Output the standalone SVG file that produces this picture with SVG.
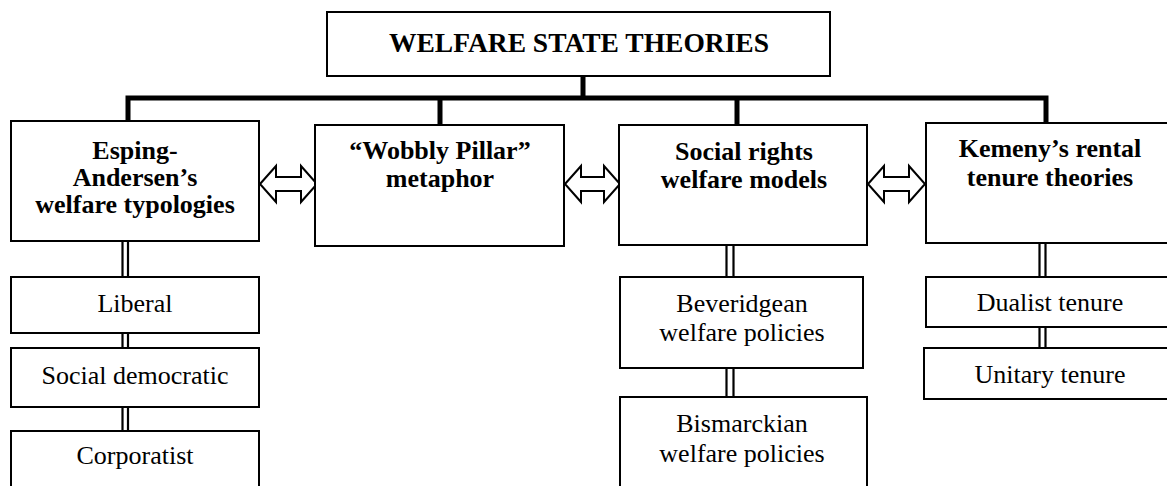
<svg xmlns="http://www.w3.org/2000/svg" width="1167" height="486" viewBox="0 0 1167 486">
  <style>
    .box { fill: #ffffff; stroke: #000000; stroke-width: 2; }
    .head { font-family: "Liberation Serif", "Times New Roman", serif; font-weight: bold; font-size: 26px; fill: #000000; text-anchor: middle; }
    .title { font-family: "Liberation Serif", "Times New Roman", serif; font-weight: bold; font-size: 27.5px; fill: #000000; text-anchor: middle; }
    .sub { font-family: "Liberation Serif", "Times New Roman", serif; font-size: 26px; fill: #000000; text-anchor: middle; }
    .trunk { fill: none; stroke: #000000; stroke-width: 5; stroke-linecap: square; }
    .rail { fill: none; stroke: #000000; stroke-width: 2.2; }
    .dbl { fill: #ffffff; stroke: #000000; stroke-width: 2; stroke-linejoin: miter; }
  </style>

  <!-- tree connectors and links between boxes -->
  <g id="connectors">
    <!-- thick trunk from the title down to the four theory boxes -->
    <path class="trunk" d="M583 76 V98 M128 98 H1046 M128 98 V121 M440 98 V125 M737 98 V125 M1046 98 V123"/>
    <!-- double rails to the sub-categories -->
    <path class="rail" d="M122.5 241 V277 M128 241 V277 M122.5 333 V348 M128 333 V348 M122.5 407 V431 M128 407 V431"/>
    <path class="rail" d="M726.5 245 V277 M733.5 245 V277 M726.5 368 V397 M733.5 368 V397"/>
    <path class="rail" d="M1039.5 243 V277 M1045.5 243 V277 M1039.5 327 V348 M1045.5 327 V348"/>
    <!-- hollow two-headed arrows -->
    <path class="dbl" d="M260 184 L276 166 V177 H301 V166 L317 184 L301 202 V191 H276 V202 Z"/>
    <path class="dbl" d="M565 184 L581 166 V177 H604 V166 L620 184 L604 202 V191 H581 V202 Z"/>
    <path class="dbl" d="M868 184 L884 166 V177 H909 V166 L925 184 L909 202 V191 H884 V202 Z"/>
  </g>

  <g id="title">
    <rect class="box" x="327" y="12" width="503" height="64"/>
    <text class="title" x="579" y="52">WELFARE STATE THEORIES</text>
  </g>

  <g id="esping-andersen">
    <rect class="box" x="11" y="121" width="248" height="120"/>
    <text class="head" x="135" y="159">Esping-</text>
    <text class="head" x="135" y="186">Andersen’s</text>
    <text class="head" x="135" y="213">welfare typologies</text>
  </g>

  <g id="wobbly-pillar">
    <rect class="box" x="315" y="125" width="249" height="121"/>
    <text class="head" x="440" y="159">“Wobbly Pillar”</text>
    <text class="head" x="440" y="187">metaphor</text>
  </g>

  <g id="social-rights">
    <rect class="box" x="619" y="125" width="248" height="120"/>
    <text class="head" x="744" y="160">Social rights</text>
    <text class="head" x="744" y="188">welfare models</text>
  </g>

  <g id="kemeny">
    <rect class="box" x="926" y="123" width="250" height="120"/>
    <text class="head" x="1050" y="157">Kemeny’s rental</text>
    <text class="head" x="1050" y="186">tenure theories</text>
  </g>

  <g id="liberal">
    <rect class="box" x="11" y="277" width="248" height="56"/>
    <text class="sub" x="135" y="312">Liberal</text>
  </g>

  <g id="social-democratic">
    <rect class="box" x="11" y="348" width="248" height="59"/>
    <text class="sub" x="135" y="384">Social democratic</text>
  </g>

  <g id="corporatist">
    <rect class="box" x="11" y="431" width="248" height="62"/>
    <text class="sub" x="135" y="464">Corporatist</text>
  </g>

  <g id="beveridgean">
    <rect class="box" x="620" y="277" width="243" height="91"/>
    <text class="sub" x="742" y="312">Beveridgean</text>
    <text class="sub" x="742" y="341">welfare policies</text>
  </g>

  <g id="bismarckian">
    <rect class="box" x="620" y="397" width="247" height="96"/>
    <text class="sub" x="742" y="432">Bismarckian</text>
    <text class="sub" x="742" y="462">welfare policies</text>
  </g>

  <g id="dualist">
    <rect class="box" x="926" y="277" width="250" height="50"/>
    <text class="sub" x="1050" y="311">Dualist tenure</text>
  </g>

  <g id="unitary">
    <rect class="box" x="924" y="348" width="252" height="51"/>
    <text class="sub" x="1050" y="383">Unitary tenure</text>
  </g>
</svg>
